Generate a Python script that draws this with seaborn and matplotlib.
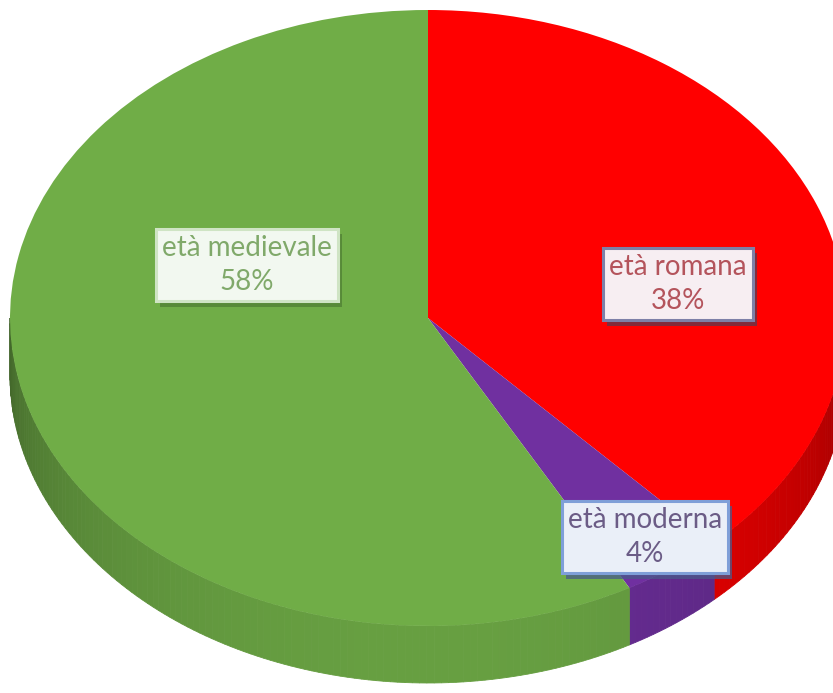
import numpy as np
import matplotlib
matplotlib.use("Agg")
import matplotlib.pyplot as plt
import matplotlib.patheffects as pe
import seaborn as sns
from matplotlib.patches import Polygon

# ---- data ----
categories = ["età romana", "età moderna", "età medievale"]
shares = [38, 4, 58]
pct_labels = ["38%", "4%", "58%"]
slice_colors = ["#ff0000", "#7030a0", "#70ad47"]
text_colors = ["#b4545c", "#6b5c86", "#80a96a"]
box_faces = ["#f7eef2", "#eaeff8", "#f2f8f0"]
box_edges = ["#7e80a8", "#7f9fd8", "#cfe4c4"]
shadow_colors = ["#5a3a50", "#4a5a8a", "#4f7f33"]

sns.set_theme(style="white")
plt.rcParams['font.family'] = ['Lato', 'DejaVu Sans']

W, H = 833, 693
fig = plt.figure(figsize=(W / 100, H / 100), dpi=100)
ax = fig.add_axes([0, 0, 1, 1])

# geometry (pixels) of the tilted pie
cx, cy, rx, ry, depth_px = 428, 318, 418, 308, 57
depth = depth_px / ry

# ---- side walls (front half only) ----
fr = np.array(shares, dtype=float) / sum(shares)
starts = 90 - 360 * np.concatenate([[0], np.cumsum(fr)[:-1]])
ends = starts - 360 * fr
for col, a0, a1 in zip(slice_colors, starts, ends):
    lo, hi = max(a1, -180), min(a0, 0)
    if hi <= lo:
        continue
    base = np.array(matplotlib.colors.to_rgb(col))
    ts = np.linspace(lo, hi, int((hi - lo) / 1.0) + 2)
    for t1, t2 in zip(ts[:-1], ts[1:]):
        tm = np.deg2rad((t1 + t2) / 2)
        L = 0.55 + 0.37 * (-np.sin(tm)) ** 0.7
        c = np.clip(base * L, 0, 1)
        r1, r2 = np.deg2rad(t1), np.deg2rad(t2)
        pts = [(np.cos(r1), np.sin(r1)), (np.cos(r2), np.sin(r2)),
               (np.cos(r2), np.sin(r2) - depth), (np.cos(r1), np.sin(r1) - depth)]
        ax.add_patch(Polygon(pts, closed=True, facecolor=c, edgecolor=c,
                             linewidth=0.6, zorder=1))

# ---- top surface ----
wedges, _ = ax.pie(shares, colors=slice_colors, startangle=90, counterclock=False,
                   radius=1, wedgeprops=dict(linewidth=0, zorder=2), frame=True)
ax.set_aspect('auto')
ax.set_xlim(-cx / rx, (W - cx) / rx)
ax.set_ylim(-(H - cy) / ry, cy / ry)
ax.axis('off')

# ---- labels ----
label_pos = [(678, 284), (645, 537), (247, 265)]
for cat, pct, (px, py), tc, fc, ec, sc in zip(categories, pct_labels, label_pos,
                                               text_colors, box_faces, box_edges,
                                               shadow_colors):
    x = (px - cx) / rx
    y = (cy - py) / ry
    t = ax.text(x, y, f"{cat}\n{pct}", ha='center', va='center', fontsize=20,
                color=tc, linespacing=1.38, zorder=5,
                bbox=dict(boxstyle='square,pad=0.22', facecolor=fc, edgecolor=ec,
                          linewidth=2.2))
    t.get_bbox_patch().set_path_effects([
        pe.SimplePatchShadow(offset=(3, -4), shadow_rgbFace=sc, alpha=0.75),
        pe.Normal()])

fig.savefig("out.png", dpi=100)
